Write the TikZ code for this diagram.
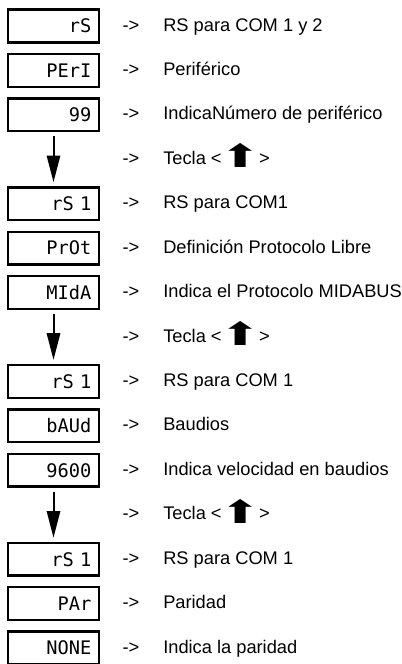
\documentclass[tikz,border=0pt]{standalone}
\usepackage{fontspec}
\usepackage{graphicx}
\setmainfont{Liberation Sans}
\newfontfamily\segfont{DejaVu Sans Mono}
\newfontfamily\simbfont{DejaVu Sans}
\usetikzlibrary{arrows.meta}
\tikzset{
  pantalla/.style={draw, line width=1.8pt, minimum width=68.5pt, minimum height=24.5pt,
    inner xsep=5.8pt, text width=56.9pt, align=right,
    font=\segfont\fontsize{14}{14}\selectfont},
  guion/.style={anchor=base, yshift=-3.75pt, font=\fontsize{13.7}{16}\selectfont},
  texto/.style={anchor=base west, yshift=-3.75pt, inner sep=0pt,
    font=\fontsize{13.7}{16}\selectfont},
  baja/.style={line width=1.5pt, -{Triangle[length=20pt,width=10pt]},
    shorten <=3pt, shorten >=3pt}
}
\newcommand{\paso}[4]{
\node[pantalla] at (53.5,#2) (d#1) {#3};
\node[guion]    at (131,#2)  (g#1) {->};
\node[texto]    at (163,#2)  (t#1) {#4};
}
\newcommand{\tecla}[2]{
\node[guion] at (131,#2) (g#1) {->};
\node[texto] at (163,#2) (t#1) {Tecla <\hspace{-1pt}\raisebox{-2.5pt}{\scalebox{1.8}[1.2]{\simbfont\fontsize{20}{20}\selectfont ⬆}}\hspace{-1pt}>};
}

\begin{document}
\begin{tikzpicture}[x=0.75pt, y=-0.75pt]
\useasboundingbox (0,0) rectangle (402,664);
\paso{0}{26}{rS}{RS para COM 1 y 2}
\paso{1}{70.4}{PErI}{Periférico}
\paso{2}{114.9}{99}{IndicaNúmero de periférico}
\tecla{3}{159.3}
\paso{4}{203.7}{rS 1}{RS para COM1}
\paso{5}{248.2}{PrOt}{Definición Protocolo Libre}
\paso{6}{292.6}{MIdA}{Indica el Protocolo MIDABUS}
\tecla{7}{337}
\paso{8}{381.4}{rS 1}{RS para COM 1}
\paso{9}{425.9}{bAUd}{Baudios}
\paso{10}{470.3}{9600}{Indica velocidad en baudios}
\tecla{11}{514.7}
\paso{12}{559.2}{rS 1}{RS para COM 1}
\paso{13}{603.6}{PAr}{Paridad}
\paso{14}{648}{NONE}{Indica la paridad}
\draw[baja] (d2) -- (d4);
\draw[baja] (d6) -- (d8);
\draw[baja] (d10) -- (d12);
\end{tikzpicture}
\end{document}
